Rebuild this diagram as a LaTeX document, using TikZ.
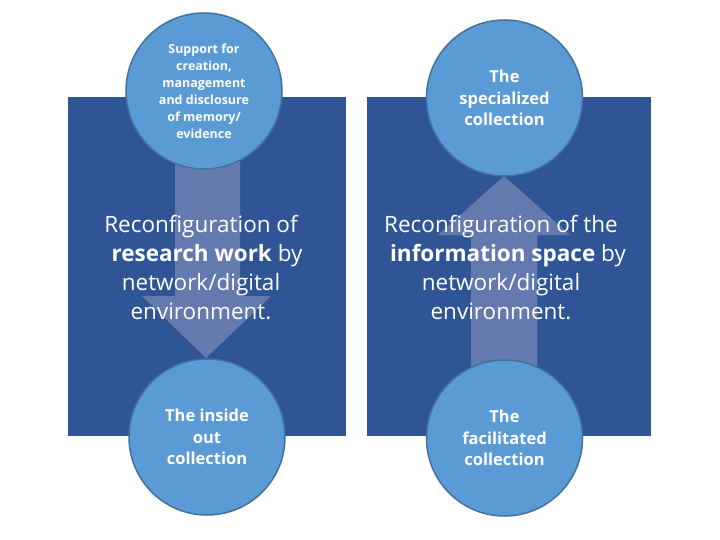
\documentclass[tikz,border=0pt]{standalone}
\usepackage{fontspec}
\setmainfont{Open Sans}
\definecolor{darkbg}{RGB}{47,85,151}
\definecolor{circfill}{RGB}{91,155,213}
\definecolor{circline}{RGB}{65,113,156}
\definecolor{arrowc}{RGB}{100,122,174}
\begin{document}
\begin{tikzpicture}[x=1pt,y=-1pt,
  panel/.style={fill=darkbg,draw=none},
  bubble/.style={circle,fill=circfill,draw=circline,line width=1.5pt,minimum size=156pt,inner sep=0pt,text=white,align=center,font=\bfseries\fontsize{16.5}{21.5}\selectfont},
  smallbubble/.style={bubble,font=\bfseries\fontsize{12.5}{17}\selectfont},
  blockarrow/.style={fill=arrowc,draw=none},
  bodytext/.style={text=white,align=center,font=\fontsize{22.5}{29}\selectfont,inner sep=0pt}]
\useasboundingbox (0,0) rectangle (720,540);
\fill[white] (0,0) rectangle (720,540);
% panels
\fill[panel] (68,97) rectangle (346,436);
\fill[panel] (367,97) rectangle (651,436);
% circle positions
\coordinate (ctl) at (204,91);
\coordinate (ctr) at (504.5,98);
\coordinate (cbl) at (207,437);
\coordinate (cbr) at (504.5,438);
% arrows
\fill[blockarrow] (175,91) -- (240,91) -- (240,296) -- (271,296) -- (206,358) -- (142,296) -- (175,296) -- cycle;
\fill[blockarrow] (471,438) -- (471,235) -- (438,235) -- (504,176) -- (570,235) -- (537,235) -- (537,438) -- cycle;
% texts
\node[bodytext] (lt) at (201,268) {Reconfiguration of\\ \hspace*{12pt}\textbf{research work} by\\ network/digital\\ environment.};
\node[bodytext] (rt) at (501,268) {Reconfiguration of the\\ \hspace*{14pt}\textbf{information space} by\\ network/digital\\ environment.};
% circles
\node[smallbubble] (tl) at (ctl) {Support for\\creation,\\management\\and disclosure\\of memory/\\evidence};
\node[bubble] (tr) at (ctr) {The\\specialized\\collection};
\node[bubble] (bl) at (cbl) {The inside\\out\\collection};
\node[bubble] (br) at (cbr) {The\\facilitated\\collection};
\end{tikzpicture}
\end{document}
